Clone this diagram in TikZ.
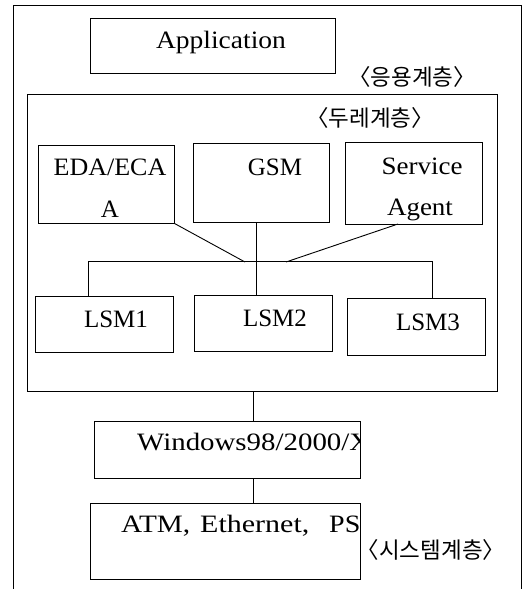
\documentclass[tikz,border=0pt]{standalone}
\usepackage{fontspec}
\setmainfont{Liberation Serif}
\newfontfamily\hangul{Noto Sans CJK KR}
\begin{document}
\begin{tikzpicture}[x=1pt,y=-1pt,
  box/.style={draw, line width=0.9pt, inner sep=0pt},
  wire/.style={line width=0.9pt},
  lat/.style={font=\fontsize{25}{28}\selectfont, inner sep=0pt, anchor=base},
  layer/.style={font=\hangul\fontsize{22.5}{26}\selectfont, inner sep=0pt}]
\useasboundingbox (0,0) rectangle (531,589);

% outer frame, open at the bottom
\draw[wire] (13,589) -- (13,5) -- (521,5) -- (521,589);

% application layer
\node[box, minimum width=245pt, minimum height=55pt] (app) at (212.5,45.5) {};
\node[lat] (appT) at (221,48) {\scalebox{1.1}[1]{Application}};
\node[layer] (appL) at (412,77) {〈응용계층〉};

% middleware layer
\node[box, minimum width=470pt, minimum height=297pt] (mid) at (262,242.5) {};
\node[layer] (midL) at (370,118) {〈두레계층〉};

\node[box, minimum width=136pt, minimum height=78pt] (eda) at (106,184) {};
\node[lat] (edaT) at (110,175) {\scalebox{1.04}[1]{EDA/ECA}};
\node[lat] (edaT2) at (110,217) {A};
\node[box, minimum width=136pt, minimum height=79pt] (gsm) at (261,182.5) {};
\node[lat] (gsmT) at (275,175) {GSM};
\node[box, minimum width=137pt, minimum height=82pt] (sa) at (413.5,183) {};
\node[lat] (saT) at (422,174) {\scalebox{1.08}[1]{Service}};
\node[lat] (saT2) at (420,215) {\scalebox{1.08}[1]{Agent}};

\node[box, minimum width=138pt, minimum height=56pt] (lsm1) at (104,324) {};
\node[lat] (l1T) at (116,327) {LSM1};
\node[box, minimum width=138pt, minimum height=56pt] (lsm2) at (263,323) {};
\node[lat] (l2T) at (275,326) {LSM2};
\node[box, minimum width=138pt, minimum height=57pt] (lsm3) at (416,326.5) {};
\node[lat] (l3T) at (428,330) {LSM3};

% bus joining the managers
\coordinate (busL) at (88,261);
\coordinate (busM) at (256,261);
\coordinate (busR) at (432,261);
\coordinate (jE) at (245,262);
\coordinate (jS) at (286,262);
\coordinate (saOut) at (398,224);
\draw[wire] (busL) -- (busR);
\draw[wire] (eda.south east) -- (jE);
\draw[wire] (gsm.south -| busM) -- (busM);
\draw[wire] (saOut) -- (jS);
\draw[wire] (busL) -- (busL |- lsm1.north);
\draw[wire] (busM) -- (busM |- lsm2.north);
\draw[wire] (busR) -- (busR |- lsm3.north);

% system layer
\node[box, minimum width=266pt, minimum height=57pt] (win) at (227,449.5) {};
\node[box, minimum width=270pt, minimum height=76pt] (atm) at (225,541) {};
\begin{scope}
  \clip (win.south west) rectangle (win.north east);
  \node[lat, anchor=base west] (winT) at (137,450) {\scalebox{1.155}[1]{Windows98/2000/X}};
\end{scope}
\node[lat, anchor=base west] (atmT1) at (121,532) {\scalebox{1.17}[1]{ATM,}};
\node[lat, anchor=base west] (atmT2) at (200,532) {\scalebox{1.2}[1]{Ethernet,}};
\node[lat, anchor=base west] (atmT3) at (329,532) {\scalebox{1.12}[1]{PS}};
\node[layer] (sysL) at (431,550) {〈시스템계층〉};

\coordinate (midOut) at (253,0);
\draw[wire] (mid.south -| midOut) -- (win.north -| midOut);
\draw[wire] (win.south -| midOut) -- (atm.north -| midOut);
\end{tikzpicture}
\end{document}
